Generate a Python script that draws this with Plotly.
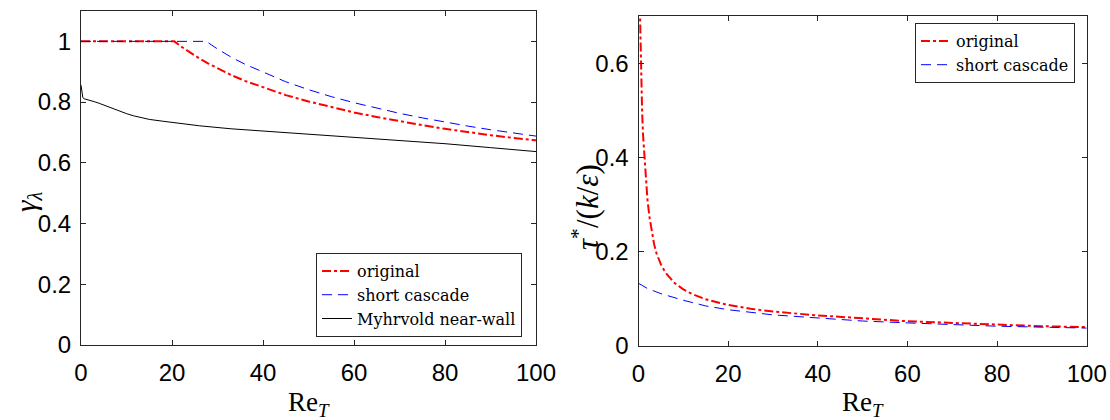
import plotly.graph_objects as go

# ---------------- data ----------------
# Left panel: gamma_lambda vs Re_T
re_orig_L = [0, 5, 10, 15, 20.5, 22, 24, 26, 28, 30, 33, 36, 40, 45, 50, 55, 60, 65, 70, 75, 80, 85, 90, 95, 100]
g_orig = [1, 1, 1, 1, 1, 0.983, 0.962, 0.944, 0.927, 0.911, 0.889, 0.870, 0.848, 0.823, 0.802, 0.783, 0.766, 0.751, 0.737, 0.724, 0.712, 0.701, 0.691, 0.682, 0.674]

re_short_L = [0, 5, 10, 15, 20, 27.5, 30, 33, 36, 40, 45, 50, 55, 60, 65, 70, 75, 80, 85, 90, 95, 100]
g_short = [1, 1, 1, 1, 1, 1, 0.975, 0.948, 0.925, 0.898, 0.867, 0.841, 0.818, 0.798, 0.780, 0.763, 0.748, 0.734, 0.721, 0.709, 0.698, 0.688]

re_myh = [0, 0.2, 0.4, 0.7, 1, 1.5, 2, 3, 4, 5, 6, 7, 8, 9, 10, 11.5, 13, 15, 18, 20, 26, 33, 40, 48, 60, 70, 80, 90, 100]
g_myh = [0.856, 0.832, 0.815, 0.811, 0.810, 0.808, 0.806, 0.801, 0.796, 0.790, 0.784, 0.778, 0.772, 0.767, 0.762, 0.755, 0.749, 0.743, 0.737, 0.733, 0.722, 0.712, 0.705, 0.697, 0.685, 0.674, 0.663, 0.650, 0.637]

# Right panel: tau*/(k/eps) vs Re_T
re_orig_R = [0.3, 0.45, 0.6, 0.8, 1.0, 1.3, 1.6, 2.0, 2.5, 3, 3.5, 4, 5, 6, 7, 8, 10, 12, 15, 20, 25, 30, 40, 50, 60, 70, 80, 90, 100]
t_orig = [0.72, 0.64, 0.57, 0.50, 0.45, 0.40, 0.355, 0.31, 0.27, 0.238, 0.215, 0.197, 0.173, 0.156, 0.144, 0.134, 0.120, 0.110, 0.099, 0.087, 0.079, 0.073, 0.065, 0.058, 0.0525, 0.049, 0.045, 0.042, 0.040]

re_short_R = [0, 2, 5, 10, 15, 20, 30, 40, 50, 60, 70, 80, 90, 100]
t_short = [0.133, 0.122, 0.111, 0.097, 0.085, 0.077, 0.066, 0.059, 0.053, 0.049, 0.045, 0.042, 0.040, 0.038]

x_ticks = [0, 20, 40, 60, 80, 100]
yL_ticks = [0, 0.2, 0.4, 0.6, 0.8, 1]
yL_labels = ["0", "0.2", "0.4", "0.6", "0.8", "1"]
yR_ticks = [0, 0.2, 0.4, 0.6]
yR_labels = ["0", "0.2", "0.4", "0.6"]

# ---------------- figure ----------------
RED = "#ff0000"
BLUE = "#0000ff"
AX = "#262626"
SERIF = "Liberation Serif"
LEG_SERIF = "DejaVu Serif"
SANS = "Liberation Sans"

fig = go.Figure()

fig.add_trace(go.Scatter(x=re_orig_L, y=g_orig, mode="lines", name="original",
                         line=dict(color=RED, width=2, dash="dashdot"),
                         xaxis="x", yaxis="y", legend="legend"))
fig.add_trace(go.Scatter(x=re_short_L, y=g_short, mode="lines", name="short cascade",
                         line=dict(color=BLUE, width=1, dash="10px,6px"),
                         xaxis="x", yaxis="y", legend="legend"))
fig.add_trace(go.Scatter(x=re_myh, y=g_myh, mode="lines", name="Myhrvold near-wall",
                         line=dict(color="#000000", width=1),
                         xaxis="x", yaxis="y", legend="legend"))

fig.add_trace(go.Scatter(x=re_orig_R, y=t_orig, mode="lines", name="original",
                         line=dict(color=RED, width=2, dash="dashdot"),
                         xaxis="x2", yaxis="y2", legend="legend2"))
fig.add_trace(go.Scatter(x=re_short_R, y=t_short, mode="lines", name="short cascade",
                         line=dict(color=BLUE, width=1, dash="10px,6px"),
                         xaxis="x2", yaxis="y2", legend="legend2"))

W, H = 1110, 420
tickfont = dict(family=SANS, size=24, color="#000000")
xaxis_common = dict(showline=True, linecolor=AX, linewidth=1, mirror="ticks",
                    ticks="inside", ticklen=5, tickcolor=AX, tickwidth=1,
                    showgrid=False, zeroline=False, tickfont=tickfont,
                    ticklabelstandoff=6, automargin=False)
yaxis_common = dict(showline=True, linecolor=AX, linewidth=1, mirror="ticks",
                    ticks="inside", ticklen=5, tickcolor=AX, tickwidth=1,
                    showgrid=False, zeroline=False, tickfont=tickfont,
                    ticklabelstandoff=4, automargin=False)

legend_font = dict(family=LEG_SERIF, size=16, color="#000000")

fig.update_layout(
    template="none",
    width=W, height=H,
    margin=dict(l=0, r=0, t=0, b=0, autoexpand=False),
    paper_bgcolor="white", plot_bgcolor="white",
    font=dict(family=SERIF, size=20, color="#000000"),
    xaxis=dict(domain=[81 / W, 536 / W], range=[0, 100], tickvals=x_ticks,
               anchor="y", **xaxis_common),
    yaxis=dict(domain=[(H - 345) / H, (H - 11) / H], range=[0, 1.1],
               tickvals=yL_ticks, ticktext=yL_labels, anchor="x", **yaxis_common),
    xaxis2=dict(domain=[638.5 / W, 1086.7 / W], range=[0, 100], tickvals=x_ticks,
                anchor="y2", **xaxis_common),
    yaxis2=dict(domain=[(H - 346) / H, (H - 16) / H], range=[0, 0.7],
                tickvals=yR_ticks, ticktext=yR_labels, anchor="x2", **yaxis_common),
    legend=dict(x=522 / W, y=(H - 337) / H, xanchor="right", yanchor="bottom",
                bgcolor="white", bordercolor=AX, borderwidth=1,
                font=legend_font, tracegroupgap=0, itemwidth=30),
    legend2=dict(x=1075 / W, y=(H - 23) / H, xanchor="right", yanchor="top",
                 bgcolor="white", bordercolor=AX, borderwidth=1,
                 font=legend_font, tracegroupgap=0, itemwidth=30),
    showlegend=True,
)

title_font = dict(family=SERIF, size=27, color="#000000")
fig.add_annotation(text="Re<sub><i>T</i></sub>", xref="paper", yref="paper",
                   x=308.5 / W, y=(H - 404) / H, showarrow=False,
                   xanchor="center", yanchor="middle", font=title_font)
fig.add_annotation(text="Re<sub><i>T</i></sub>", xref="paper", yref="paper",
                   x=862.6 / W, y=(H - 404) / H, showarrow=False,
                   xanchor="center", yanchor="middle", font=title_font)
fig.add_annotation(text="<i>γ</i><sub><i>λ</i></sub>", xref="paper", yref="paper",
                   x=28 / W, y=(H - 202) / H, showarrow=False, textangle=-90,
                   xanchor="center", yanchor="middle", font=dict(family=SERIF, size=29, color="#000000"))
fig.add_annotation(text="<i>τ</i><sup>*</sup>/(<i>k</i>/<i>ε</i>)", xref="paper", yref="paper",
                   x=585 / W, y=(H - 207) / H, showarrow=False, textangle=-90,
                   xanchor="center", yanchor="middle", font=dict(family=SERIF, size=31, color="#000000"))

fig.write_html("out.html")
